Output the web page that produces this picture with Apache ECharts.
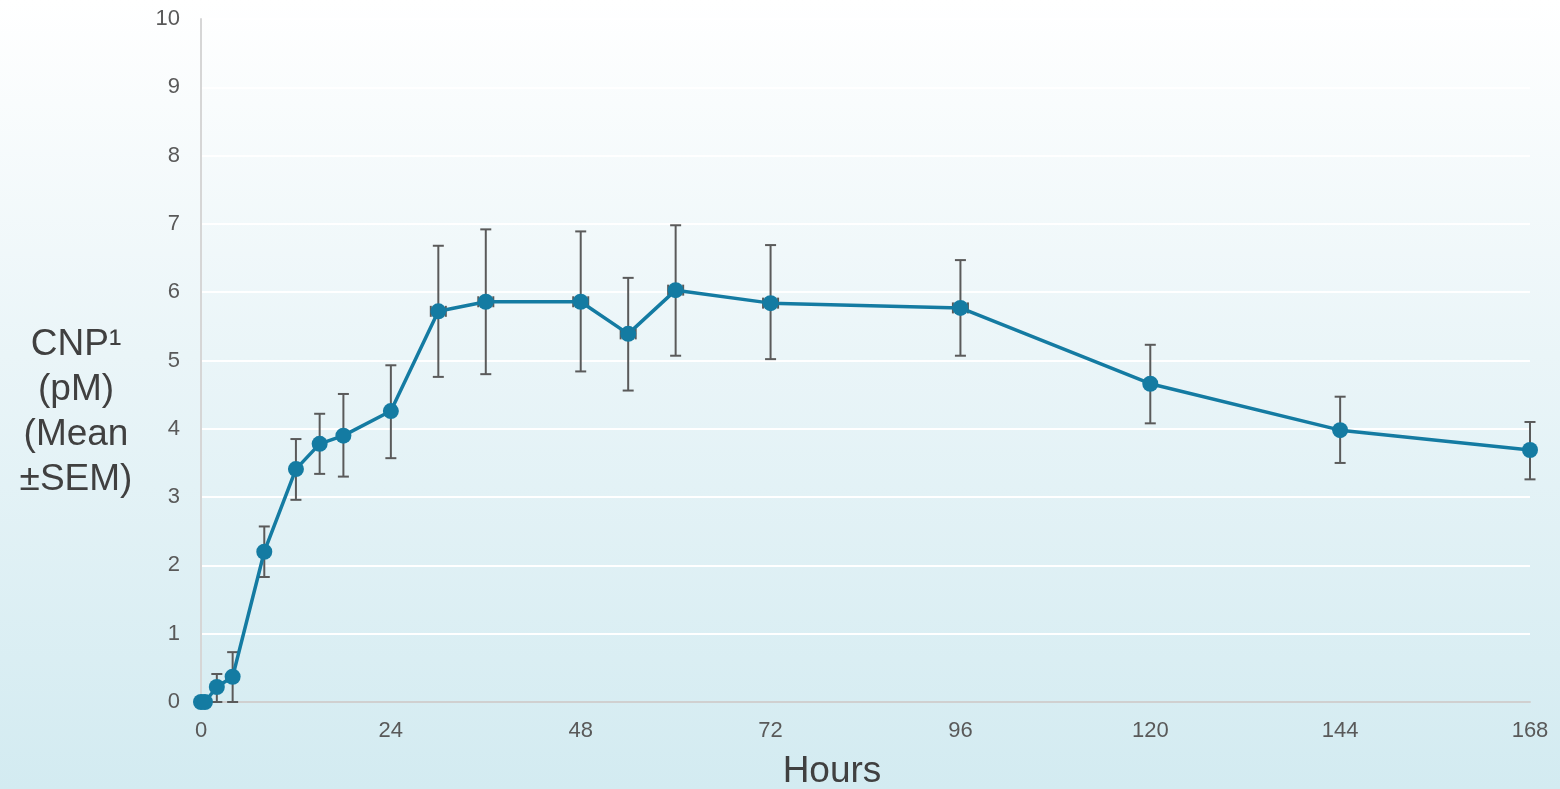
<!DOCTYPE html>
<html>
<head>
<meta charset="utf-8">
<script src="https://cdn.jsdelivr.net/npm/echarts@6/dist/echarts.min.js"></script>
<style>
  html, body { margin: 0; padding: 0; }
  #chart {
    width: 1560px; height: 789px;
    background: linear-gradient(to bottom, #ffffff 0%, #eaf5f8 45%, #d3ebf1 100%);
  }
</style>
</head>
<body>
<div id="chart"></div>
<script>
// Sampling times (hours) and mean CNP concentration (pM)
const hours   = [0, 0.5, 2, 4, 8, 12, 15, 18, 24, 30, 36, 48, 54, 60, 72, 96, 120, 144, 168];
const meanCNP = [0, 0, 0.22, 0.37, 2.2, 3.41, 3.78, 3.9, 4.26, 5.72, 5.86, 5.86, 5.39, 6.03, 5.84, 5.77, 4.66, 3.98, 3.69];
// Lower / upper ends of the ±SEM bars
const semLow  = [0, 0, 0, 0, 1.83, 2.96, 3.34, 3.30, 3.57, 4.76, 4.80, 4.84, 4.56, 5.07, 5.02, 5.07, 4.08, 3.50, 3.26];
const semHigh = [0, 0, 0.41, 0.73, 2.57, 3.85, 4.22, 4.51, 4.93, 6.68, 6.92, 6.89, 6.21, 6.98, 6.69, 6.47, 5.23, 4.47, 4.10];
// Half-width of the timing bars (hours)
const timeErr = [0, 0, 0, 0, 0, 0, 0, 0, 0, 0.95, 0.95, 0.95, 0.95, 0.95, 0.95, 0.95, 0, 0, 0];
const xTicks = [0, 24, 48, 72, 96, 120, 144, 168];

const lineColor = '#147ba2';
const barColor = '#5a5a5a';
const font = 'Liberation Sans, Arial, sans-serif';

const points = hours.map((h, i) => [h, meanCNP[i]]);
const errData = hours.map((h, i) => [h, semLow[i], semHigh[i], timeErr[i], meanCNP[i]]);

const chart = echarts.init(document.getElementById('chart'), null, { renderer: 'canvas' });

chart.setOption({
  animation: false,
  grid: { left: 201, right: 30, top: 19, bottom: 87, outerBoundsMode: 'none', containLabel: false },
  xAxis: {
    type: 'value', min: 0, max: 168, interval: 24,
    axisLine: { show: true, lineStyle: { color: '#d0d0d0', width: 2 } },
    axisTick: { show: false },
    splitLine: { show: false },
    axisLabel: {
      margin: 18, color: '#595959', fontSize: 22, fontFamily: font,
      formatter: v => xTicks.includes(v) ? String(v) : ''
    }
  },
  yAxis: {
    type: 'value', min: 0, max: 10, interval: 1,
    axisLine: { show: true, lineStyle: { color: '#d6d6d6', width: 2 } },
    axisTick: { show: false },
    splitLine: { show: true, lineStyle: { color: '#ffffff', width: 2 } },
    axisLabel: { margin: 21, color: '#595959', fontSize: 22, fontFamily: font }
  },
  graphic: [
    {
      type: 'text', x: 76, y: 322,
      style: {
        text: 'CNP¹\n(pM)\n(Mean\n±SEM)',
        fontSize: 37, lineHeight: 45, fill: '#404040', align: 'center',
        verticalAlign: 'top', fontFamily: font
      }
    },
    {
      type: 'text', x: 832, y: 772,
      style: {
        text: 'Hours', fontSize: 37, fill: '#404040', align: 'center',
        verticalAlign: 'middle', fontFamily: font
      }
    }
  ],
  series: [
    {
      type: 'custom',
      z: 1,
      data: errData,
      encode: { x: 0, y: [1, 2] },
      renderItem: function (params, api) {
        const x = api.value(0);
        const lo = api.coord([x, api.value(1)]);
        const hi = api.coord([x, api.value(2)]);
        const cap = 5.5;
        const style = { stroke: barColor, lineWidth: 2, fill: null };
        const children = [];
        if (hi[1] < lo[1] - 0.5) {
          children.push(
            { type: 'line', shape: { x1: lo[0], y1: lo[1], x2: hi[0], y2: hi[1] }, style },
            { type: 'line', shape: { x1: lo[0] - cap, y1: lo[1], x2: lo[0] + cap, y2: lo[1] }, style },
            { type: 'line', shape: { x1: hi[0] - cap, y1: hi[1], x2: hi[0] + cap, y2: hi[1] }, style }
          );
        }
        const dx = api.value(3);
        if (dx > 0) {
          const m = api.value(4);
          const l = api.coord([x - dx, m]);
          const r = api.coord([x + dx, m]);
          children.push(
            { type: 'line', shape: { x1: l[0], y1: l[1], x2: r[0], y2: r[1] }, style },
            { type: 'line', shape: { x1: l[0], y1: l[1] - 5.5, x2: l[0], y2: l[1] + 5.5 }, style },
            { type: 'line', shape: { x1: r[0], y1: r[1] - 5.5, x2: r[0], y2: r[1] + 5.5 }, style }
          );
        }
        return { type: 'group', children };
      }
    },
    {
      type: 'line',
      z: 3,
      data: points,
      symbol: 'circle',
      symbolSize: 16,
      lineStyle: { color: lineColor, width: 3.5 },
      itemStyle: { color: lineColor },
      clip: false
    }
  ]
});
</script>
</body>
</html>
